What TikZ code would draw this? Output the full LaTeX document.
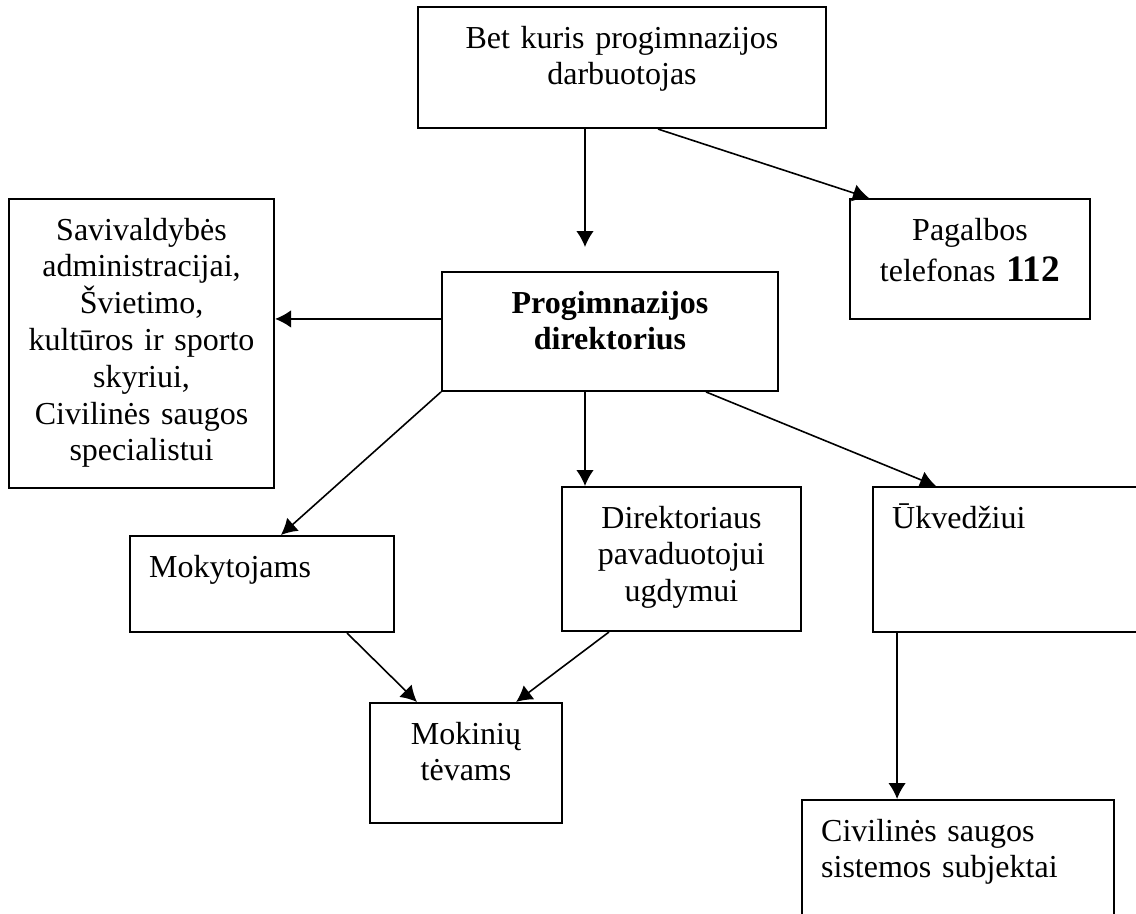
\documentclass[tikz,border=0pt]{standalone}
\usepackage{fontspec}
\setmainfont{Liberation Serif}
\usetikzlibrary{arrows.meta}

\begin{document}
\begin{tikzpicture}[x=0.375pt,y=-0.375pt,
	blokas/.style={draw, line width=0.75pt, anchor=north west, inner xsep=7.2pt, inner ysep=0pt,
		text height=15.4pt, font=\fontsize{12}{13.8}\selectfont},
	strele/.style={-{Latex[length=6pt,width=6.6pt]}, line width=0.6pt}]
	%% page frame
	\clip (0,0) rectangle (1136,914);

	% boxes
	\node[blokas, align=center, text width=138.6pt, text depth=30pt] (bet) at (417,6)
		{Bet kuris progimnazijos\\ darbuotojas};
	\node[blokas, align=center, text width=75.6pt, text depth=29.6pt] (pag) at (849,198)
		{Pagalbos\\[1.6pt] telefonas {\fontsize{14}{16}\selectfont\bfseries 112}};
	\node[blokas, align=center, text width=85pt, text depth=93pt] (sav) at (8,198)
		{Savivaldybės\\ administracijai,\\ Švietimo,\\ kultūros ir sporto\\ skyriui,\\ Civilinės saugos\\ specialistui};
	\node[blokas, align=center, text width=111.6pt, text depth=29.2pt] (dir) at (441,271)
		{\bfseries Progimnazijos\\ direktorius};
	\node[blokas, align=left, text width=84.6pt, text depth=20.6pt] (mok) at (129,535)
		{Mokytojams};
	\node[blokas, align=center, text width=75.2pt, text depth=38.6pt] (pav) at (561,486)
		{Direktoriaus\\ pavaduotojui\\ ugdymui};
	\node[blokas, align=left, text width=110pt, text depth=39pt] (ukv) at (872,486)
		{Ūkvedžiui};
	\node[blokas, align=center, text width=57.6pt, text depth=29.6pt] (tev) at (369,702)
		{Mokinių\\ tėvams};
	\node[blokas, align=left, text width=102.6pt, text depth=45pt] (civ) at (801,799)
		{Civilinės saugos\\ sistemos subjektai};

	\coordinate (ax) at (585,0); % common vertical line
	\coordinate (ux) at ([xshift=9.4pt]ukv.south west);

	% connectors
	\begin{scope}[strele]
		\draw[shorten >=9pt] (bet.south -| ax) -- (dir.north -| ax);
		\draw ([xshift=13.5pt]bet.south) -- ([xshift=7.5pt]pag.north west);
		\draw ([yshift=4.7pt]dir.west) -- ([yshift=4.7pt]dir.west -| sav.east);
		\draw (dir.south west) -- ([xshift=7.1pt]mok.north);
		\draw (dir.south -| ax) -- (pav.north -| ax);
		\draw ([xshift=36pt]dir.south) -- ([xshift=24pt]ukv.north west);
		\draw ([xshift=-18pt]mok.south east) -- ([xshift=18pt]tev.north west);
		\draw ([xshift=18pt]pav.south west) -- ([xshift=-17.6pt]tev.north east);
		\draw (ux) -- (ux |- civ.north);
	\end{scope}
\end{tikzpicture}
\end{document}
